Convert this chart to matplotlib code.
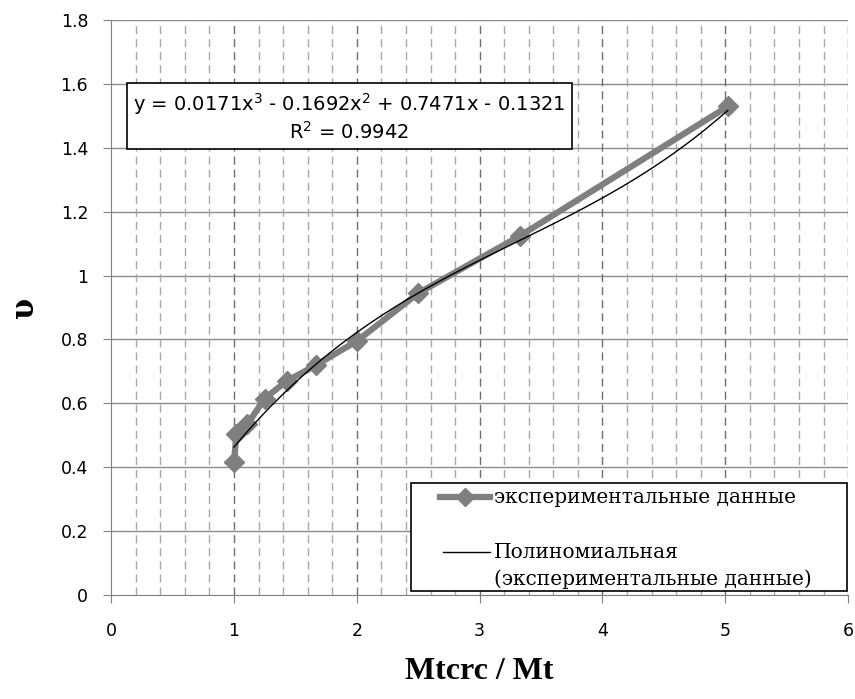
import numpy as np
import matplotlib
matplotlib.use("Agg")
import matplotlib.pyplot as plt
from matplotlib.patches import Rectangle
from matplotlib.lines import Line2D

# data
x_data = [1.0, 1.02, 1.11, 1.25, 1.43, 1.67, 2.0, 2.5, 3.33, 5.02]
y_data = [0.415, 0.505, 0.535, 0.615, 0.67, 0.72, 0.795, 0.945, 1.125, 1.53]
coef = [0.0171, -0.1692, 0.7471, -0.1321]
x_ticks = [0, 1, 2, 3, 4, 5, 6]
y_ticks = [0, 0.2, 0.4, 0.6, 0.8, 1, 1.2, 1.4, 1.6, 1.8]
y_tick_labels = ["0", "0.2", "0.4", "0.6", "0.8", "1", "1.2", "1.4", "1.6", "1.8"]
eq_text = "y = 0.0171x$^3$ - 0.1692x$^2$ + 0.7471x - 0.1321\nR$^2$ = 0.9942"
label_data = "экспериментальные данные"
label_fit_1 = "Полиномиальная"
label_fit_2 = "(экспериментальные данные)"
x_label = "Mtcrc / Mt"
y_label = "υ"

fig = plt.figure(figsize=(8.55, 6.99), dpi=100)
ax = fig.add_axes([0.130, 0.149, 0.862, 0.822])

ax.set_xlim(0, 6)
ax.set_ylim(0, 1.8)

# gridlines
for yv in y_ticks[1:]:
    ax.axhline(yv, color="#8c8c8c", lw=1.0, zorder=1)
for xv in np.arange(0.2, 6.01, 0.2):
    major = abs(xv - round(xv)) < 1e-6
    ax.axvline(xv, color="#6e6e6e" if major else "#a8a8a8", lw=1.0,
               ls=(0, (5.8, 3.6)), zorder=1)

# data
ax.plot(x_data, y_data, color="#7f7f7f", lw=4.5, marker="D", ms=10.5,
        mfc="#7f7f7f", mec="#7f7f7f", zorder=3)
xf = np.linspace(min(x_data), max(x_data), 200)
yf = np.polyval(coef, xf)
ax.plot(xf, yf, color="black", lw=1.0, zorder=4)

ax.set_xticks(x_ticks)
ax.set_yticks(y_ticks)
ax.set_yticklabels(y_tick_labels)
for s in ["top", "right"]:
    ax.spines[s].set_visible(False)
for s in ["left", "bottom"]:
    ax.spines[s].set_color("#7f7f7f")
ax.tick_params(axis="both", direction="out", length=5.5, color="#7f7f7f",
               labelsize=12.5)
ax.tick_params(axis="y", pad=11)
ax.tick_params(axis="x", pad=14)
for lab in ax.get_xticklabels() + ax.get_yticklabels():
    lab.set_fontfamily("DejaVu Sans")

# equation box
ax.text(1.94, 1.497, eq_text, ha="center", va="center", fontsize=14,
        family="DejaVu Sans", linespacing=1.2, zorder=6,
        bbox=dict(boxstyle="square,pad=0.3", fc="white", ec="black", lw=1.2))

# legend (manual, axes coordinates)
T = ax.transAxes
ax.add_patch(Rectangle((0.407, 0.007), 0.592, 0.187, transform=T, fc="white",
                       ec="black", lw=1.2, zorder=7, clip_on=False))
ax.add_line(Line2D([0.446, 0.514], [0.170, 0.170], transform=T, color="#7f7f7f",
                   lw=4.5, zorder=8))
ax.add_line(Line2D([0.480], [0.170], transform=T, color="#7f7f7f", marker="D",
                   ms=9, lw=0, zorder=8))
ax.add_line(Line2D([0.450, 0.514], [0.074, 0.074], transform=T, color="black",
                   lw=1.0, zorder=8))
fp = dict(family="DejaVu Serif", fontsize=14.5, zorder=9)
ax.text(0.519, 0.170, label_data, transform=T, va="center", ha="left", **fp)
ax.text(0.519, 0.074, label_fit_1, transform=T, va="center", ha="left", **fp)
ax.text(0.519, 0.027, label_fit_2, transform=T, va="center", ha="left", **fp)

ax.set_xlabel(x_label, fontsize=23, fontweight="bold",
              family="Liberation Serif", labelpad=12)
fig.text(24 / 855, 1 - 307 / 699, y_label, rotation=90, ha="center", va="center",
         fontsize=22, fontweight="bold", family="DejaVu Serif")

fig.savefig("out.png", dpi=100)
